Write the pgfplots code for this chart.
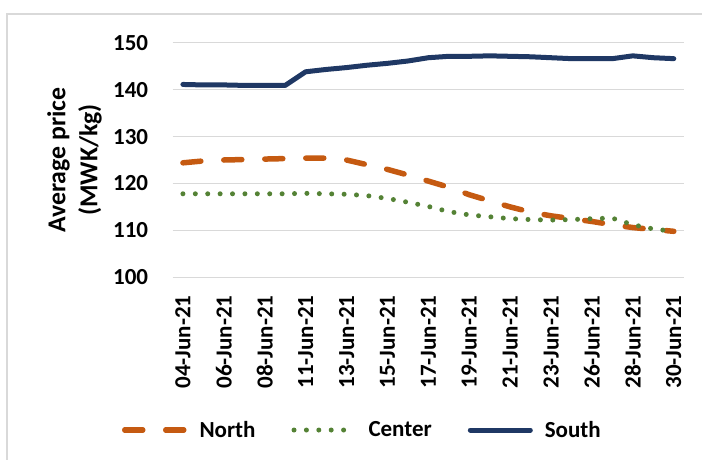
\documentclass[border=0pt]{standalone}
\usepackage{fontspec}
\setmainfont{Carlito}
\usepackage{pgfplots}
\pgfplotsset{compat=1.18}
\definecolor{north}{HTML}{C55A11}
\definecolor{center}{HTML}{548235}
\definecolor{south}{HTML}{1F3864}
\definecolor{gridgray}{HTML}{D9D9D9}

\begin{document}
\begin{tikzpicture}[x=1pt,y=1pt]
\path[use as bounding box] (0,0) rectangle (702,459);
\draw[gridgray, line width=1.5pt] (7,-20) -- (7,445) -- (720,445);
\begin{axis}[
    at={(172.7pt,181.7pt)}, anchor=south west,
    scale only axis, width=511.3pt, height=234.6pt,
    xmin=-0.5, xmax=24.5,
    ymin=100, ymax=150,
    ytick={100,110,...,150},
    xtick={0,2,...,24},
    xticklabels={04-Jun-21,06-Jun-21,08-Jun-21,11-Jun-21,13-Jun-21,15-Jun-21,17-Jun-21,19-Jun-21,21-Jun-21,23-Jun-21,26-Jun-21,28-Jun-21,30-Jun-21},
    axis line style={draw=none},
    tick style={draw=none},
    ymajorgrids=true,
    grid style={gridgray, line width=1.3pt},
    /pgf/number format/assume math mode=true,
    tick label style={font=\bfseries\fontsize{23}{27}\selectfont},
    xticklabel style={yshift=-18pt, rotate=90, anchor=east, inner sep=0pt},
    yticklabel style={anchor=east, inner sep=0pt, xshift=-24.4pt},
    ylabel={Average price\\(MWK/kg)},
    ylabel style={at={(axis description cs:-0.192,0.5)}, anchor=center, align=center,
        font=\bfseries\fontsize{25.8}{32}\selectfont},
    legend columns=3,
    legend image code/.code={\draw[#1] (0pt,0pt) -- (60pt,0pt);},
    legend style={at={(axis description cs:0.369,-0.651)}, anchor=center,
        draw=none, fill=none, inner sep=0pt,
        font=\bfseries\fontsize{23}{27}\selectfont,
        nodes={inner sep=0pt},
        /tikz/every odd column/.append style={column sep=12pt},
        /tikz/every even column/.append style={column sep=36pt}},
]
\addplot[north, line width=5.5pt, line cap=round, dash pattern=on 18pt off 23pt] coordinates {
(0,124.4)(1,124.8)(2,125.0)(3,125.1)(4,125.2)(5,125.3)(6,125.4)(7,125.4)(8,125.0)
(9,124.0)(10,123.0)(11,121.8)(12,120.5)(13,119.2)(14,117.6)(15,116.3)(16,115.0)
(17,113.9)(18,113.1)(19,112.5)(20,111.9)(21,111.2)(22,110.6)(23,110.2)(24,109.8)};
\addlegendentry{North}
\addplot[center, line width=5pt, line cap=round, dash pattern=on 0pt off 12.4pt] coordinates {
(0,117.8)(1,117.8)(2,117.8)(3,117.8)(4,117.8)(5,117.8)(6,117.9)(7,117.8)(8,117.7)
(9,117.4)(10,116.8)(11,116.0)(12,115.1)(13,114.0)(14,113.3)(15,112.9)(16,112.5)
(17,112.3)(18,112.2)(19,112.3)(20,112.5)(21,112.6)(22,111.2)(23,110.3)(24,109.8)};
\addlegendentry{Center}
\addplot[south, line width=5pt, line cap=round, line join=round] coordinates {
(0,141.1)(1,141.0)(2,141.0)(3,140.9)(4,140.9)(5,140.9)(6,143.8)(7,144.3)(8,144.7)
(9,145.2)(10,145.6)(11,146.1)(12,146.8)(13,147.1)(14,147.1)(15,147.2)(16,147.1)
(17,147.0)(18,146.8)(19,146.6)(20,146.6)(21,146.6)(22,147.2)(23,146.8)(24,146.6)};
\addlegendentry{South}
\end{axis}
\end{tikzpicture}
\end{document}
